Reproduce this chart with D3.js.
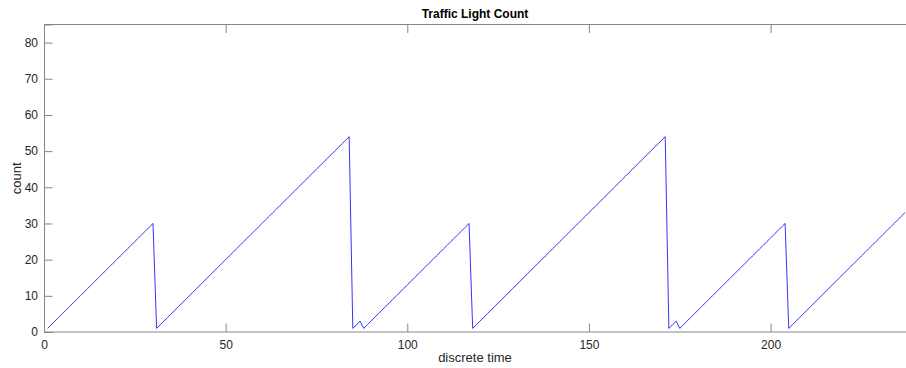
<!DOCTYPE html>
<html>
<head>
<meta charset="utf-8">
<script src="https://cdn.jsdelivr.net/npm/d3@7"></script>
<style>
  body { margin: 0; background: #fff; }
  svg { display: block; font-family: "Liberation Sans", Arial, Helvetica, sans-serif; }
  .tick text { fill: #262626; font-size: 12px; }
  .axis path, .axis line { stroke: #868686; }
</style>
</head>
<body>
<div id="chart"></div>
<script>
// light count at each discrete time step (t = 1, 2, 3, ...)
var countValues = [
  1,2,3,4,5,6,7,8,9,10,11,12,13,14,15,16,17,18,19,20,21,22,23,24,25,26,27,28,29,30,
  1,2,3,4,5,6,7,8,9,10,11,12,13,14,15,16,17,18,19,20,21,22,23,24,25,26,27,28,29,30,
  31,32,33,34,35,36,37,38,39,40,41,42,43,44,45,46,47,48,49,50,51,52,53,54,
  1,2,3,
  1,2,3,4,5,6,7,8,9,10,11,12,13,14,15,16,17,18,19,20,21,22,23,24,25,26,27,28,29,30,
  1,2,3,4,5,6,7,8,9,10,11,12,13,14,15,16,17,18,19,20,21,22,23,24,25,26,27,28,29,30,
  31,32,33,34,35,36,37,38,39,40,41,42,43,44,45,46,47,48,49,50,51,52,53,54,
  1,2,3,
  1,2,3,4,5,6,7,8,9,10,11,12,13,14,15,16,17,18,19,20,21,22,23,24,25,26,27,28,29,30,
  1,2,3,4,5,6,7,8,9,10,11,12,13,14,15,16,17,18,19,20,21,22,23,24,25,26,27,28,29,30,
  31,32,33
];
var xTicks = [0, 50, 100, 150, 200];
var yTicks = [0, 10, 20, 30, 40, 50, 60, 70, 80];
var xLimits = [0, 237];
var yLimits = [0, 85];

(function () {
  'use strict'

  var margin = {top: 24.5, right: 1, bottom: 36, left: 44},
      width = 906 - margin.left - margin.right,
      height = 368 - margin.top - margin.bottom;

  var points = countValues.map(function(c, i){ return {t: i + 1, c: c}; });

  var x = d3.scaleLinear().domain(xLimits).range([0, width]);
  var y = d3.scaleLinear().domain(yLimits).range([height, 0]);

  var svg = d3.select("#chart").append("svg")
      .attr("width", width + margin.left + margin.right)
      .attr("height", height + margin.top + margin.bottom)
    .append("g")
      .attr("transform", "translate(" + margin.left + "," + margin.top + ")");

  var tickLen = 8.5;

  // bottom axis
  var bx = svg.append("g").attr("class", "axis")
      .attr("transform", "translate(0," + height + ")")
      .call(d3.axisBottom(x).tickValues(xTicks).tickSize(-tickLen).tickPadding(5));
  bx.selectAll(".tick text").attr("dy", "0.95em").attr("y", 6);

  // top axis (box)
  svg.append("g").attr("class", "axis")
      .call(d3.axisTop(x).tickValues(xTicks).tickSize(-tickLen).tickFormat(""));

  // left axis
  var ly = svg.append("g").attr("class", "axis")
      .call(d3.axisLeft(y).tickValues(yTicks).tickSize(-tickLen).tickPadding(6));
  ly.selectAll(".tick text").attr("x", -6);

  // the right side of the box falls off the figure, so only extend top/bottom lines
  svg.selectAll(".axis .domain").attr("stroke", "#868686");
  svg.selectAll(".axis .domain").filter(function(){ return this.parentNode !== ly.node(); })
      .attr("d", "M0,0H" + (width + margin.right));

  var line = d3.line()
      .x(function(d){ return x(d.t); })
      .y(function(d){ return y(d.c); });

  svg.append("path")
      .datum(points)
      .attr("fill", "none")
      .attr("stroke", "#0000ff")
      .attr("stroke-width", 0.8)
      .attr("d", line);

  // title and labels
  svg.append("text")
      .attr("x", (width + margin.right) / 2).attr("y", -7)
      .attr("text-anchor", "middle")
      .attr("font-size", "12px").attr("font-weight", "bold")
      .attr("fill", "#000")
      .text("Traffic Light Count");

  svg.append("text")
      .attr("x", (width + margin.right) / 2).attr("y", height + 30)
      .attr("text-anchor", "middle")
      .attr("font-size", "13px").attr("fill", "#262626")
      .text("discrete time");

  svg.append("text")
      .attr("transform", "translate(" + (-23) + "," + (height / 2) + ") rotate(-90)")
      .attr("text-anchor", "middle")
      .attr("font-size", "13px").attr("fill", "#262626")
      .text("count");
})()
</script>
</body>
</html>
